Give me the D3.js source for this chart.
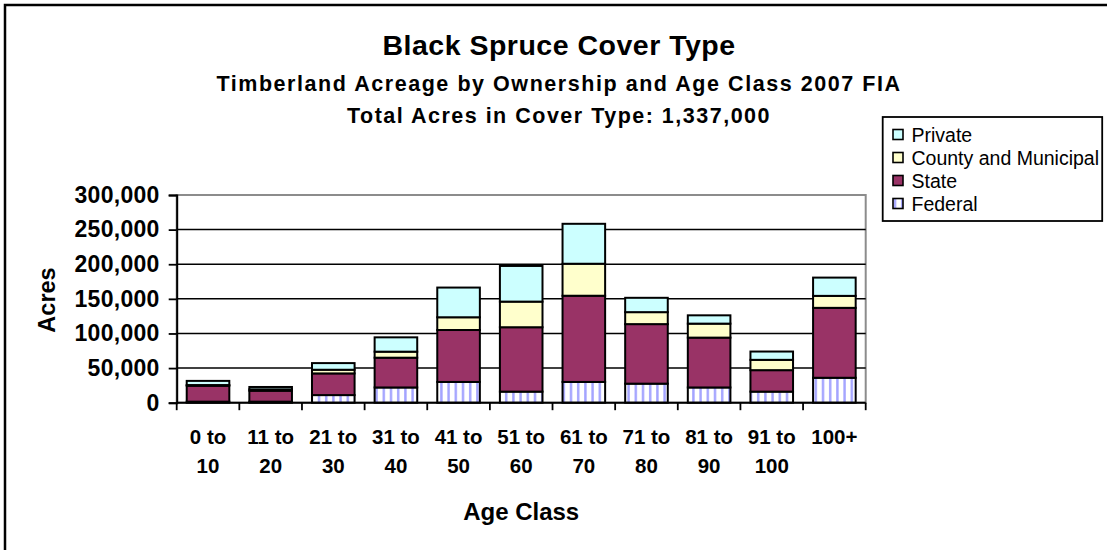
<!DOCTYPE html>
<html>
<head>
<meta charset="utf-8">
<script src="https://cdn.jsdelivr.net/npm/d3@7/dist/d3.min.js"></script>
<style>
  html, body { margin: 0; padding: 0; background: #fff; }
  svg { display: block; font-family: "Liberation Sans", Arial, sans-serif; }
</style>
</head>
<body>
<svg id="chart" width="1107" height="550"></svg>
<script>
const categories = ["0 to 10", "11 to 20", "21 to 30", "31 to 40", "41 to 50", "51 to 60", "61 to 70", "71 to 80", "81 to 90", "91 to 100", "100+"];
const federal = [1500, 1500, 11000, 22000, 30000, 16000, 30000, 27500, 22000, 16000, 36000];
const state   = [23000, 15800, 31300, 43000, 75000, 93000, 124500, 86000, 72000, 31000, 101000];
const county  = [1000, 2000, 5300, 8700, 18400, 37000, 46200, 17300, 20200, 14900, 17300];
const privateOwn = [6000, 3400, 9600, 20700, 42900, 51500, 57700, 20700, 12000, 12000, 26400];
const seriesNames = ["Federal", "State", "County and Municipal", "Private"];
const yTicks = [0, 50000, 100000, 150000, 200000, 250000, 300000];
const titleLines = ["Black Spruce Cover Type", "Timberland Acreage by Ownership and Age Class 2007 FIA", "Total Acres in Cover Type: 1,337,000"];

const svg = d3.select("#chart");
const W = 1107, H = 550;
const plot = { left: 176.7, right: 865.7, top: 195, bottom: 402.7 };

// outer border
svg.append("rect").attr("x", 5).attr("y", 5).attr("width", W + 10).attr("height", H + 10)
  .attr("fill", "none").attr("stroke", "#000").attr("stroke-width", 2.5);

// pattern for federal
const defs = svg.append("defs");
const pat = defs.append("pattern").attr("id", "fedPat").attr("patternUnits", "userSpaceOnUse")
  .attr("width", 7.2).attr("height", 10).attr("x", 0);
pat.append("rect").attr("width", 7.2).attr("height", 10).attr("fill", "#fff");
pat.append("rect").attr("x", 1).attr("width", 2.4).attr("height", 10).attr("fill", "#a3a3ff");

const colors = { "Federal": "url(#fedPat)", "State": "#993366", "County and Municipal": "#FFFFCC", "Private": "#CCFFFF" };

const rows = categories.map((c, i) => ({
  cat: c, "Federal": federal[i], "State": state[i], "County and Municipal": county[i], "Private": privateOwn[i]
}));

const x = d3.scaleBand().domain(categories).range([plot.left, plot.right]).paddingInner(0.32).paddingOuter(0.16);
const y = d3.scaleLinear().domain([0, 300000]).range([plot.bottom, plot.top]);

// plot area border (gray)
svg.append("rect").attr("x", plot.left).attr("y", plot.top)
  .attr("width", plot.right - plot.left).attr("height", plot.bottom - plot.top)
  .attr("fill", "none").attr("stroke", "#8c8c8c").attr("stroke-width", 2);

// gridlines
svg.append("g").selectAll("line").data(yTicks.filter(t => t > 0 && t < 300000)).join("line")
  .attr("x1", plot.left).attr("x2", plot.right)
  .attr("y1", d => y(d)).attr("y2", d => y(d))
  .attr("stroke", "#000").attr("stroke-width", 1.5);

// bars
const stack = d3.stack().keys(seriesNames)(rows);
svg.append("g").selectAll("g").data(stack).join("g")
  .attr("fill", d => colors[d.key])
  .selectAll("rect").data(d => d).join("rect")
  .attr("x", d => x(d.data.cat))
  .attr("width", x.bandwidth())
  .attr("y", d => y(d[1]))
  .attr("height", d => y(d[0]) - y(d[1]))
  .attr("stroke", "#000").attr("stroke-width", 2);

// y axis
const yAxis = d3.axisLeft(y).tickValues(yTicks).tickSize(8).tickPadding(9)
  .tickFormat(d3.format(","));
const yg = svg.append("g").attr("transform", `translate(${plot.left},0)`).call(yAxis);
yg.select(".domain").attr("stroke", "#000").attr("stroke-width", 2);
yg.selectAll(".tick line").attr("stroke", "#000").attr("stroke-width", 1.8);
yg.selectAll(".tick text").attr("font-size", 23).attr("font-weight", "bold")
  .attr("fill", "#000").attr("font-family", "'Liberation Sans', Arial, sans-serif")
  .attr("letter-spacing", 0.3);

// x axis: ticks at boundaries
const xg = svg.append("g");
xg.append("line").attr("x1", plot.left).attr("x2", plot.right)
  .attr("y1", plot.bottom).attr("y2", plot.bottom).attr("stroke", "#000").attr("stroke-width", 2);
const step = x.step();
const bounds = d3.range(categories.length + 1).map(i => plot.left + i * step);
xg.selectAll("line.tk").data(bounds).join("line").attr("class", "tk")
  .attr("x1", d => d).attr("x2", d => d)
  .attr("y1", plot.bottom).attr("y2", plot.bottom + 7.5)
  .attr("stroke", "#000").attr("stroke-width", 1.8);
const xl = xg.selectAll("text.xl").data(categories).join("text").attr("class", "xl")
  .attr("text-anchor", "middle").attr("font-size", 20.5).attr("font-weight", "bold").attr("fill", "#000");
xl.each(function(d) {
  const cx = x(d) + x.bandwidth() / 2;
  const parts = d.indexOf(" to ") >= 0 ? [d.split(" to ")[0] + " to", d.split(" to ")[1]] : [d];
  const t = d3.select(this);
  parts.forEach((p, k) => {
    t.append("tspan").attr("x", cx).attr("y", 444 + k * 29.3).text(p);
  });
});

// axis titles
svg.append("text").attr("transform", `translate(55,300) rotate(-90)`)
  .attr("text-anchor", "middle").attr("font-size", 23.5).attr("font-weight", "bold").text("Acres");
svg.append("text").attr("x", (plot.left + plot.right) / 2).attr("y", 520)
  .attr("text-anchor", "middle").attr("font-size", 24).attr("font-weight", "bold").text("Age Class");

// titles
const cx = 559;
svg.append("text").attr("x", cx).attr("y", 55).attr("text-anchor", "middle")
  .attr("font-size", 28.5).attr("font-weight", "bold").attr("letter-spacing", 0.5).text(titleLines[0]);
svg.append("text").attr("x", cx).attr("y", 90.5).attr("text-anchor", "middle")
  .attr("font-size", 21.5).attr("font-weight", "bold").attr("letter-spacing", 1.55).text(titleLines[1]);
svg.append("text").attr("x", cx).attr("y", 123).attr("text-anchor", "middle")
  .attr("font-size", 21.5).attr("font-weight", "bold").attr("letter-spacing", 1.5).text(titleLines[2]);

// legend
const lg = svg.append("g");
lg.append("rect").attr("x", 882.7).attr("y", 117).attr("width", 219.5).attr("height", 104)
  .attr("fill", "#fff").attr("stroke", "#000").attr("stroke-width", 1.8);
const legendOrder = ["Private", "County and Municipal", "State", "Federal"];
legendOrder.forEach((name, i) => {
  const cy = 134.5 + i * 23;
  lg.append("rect").attr("x", 893).attr("y", cy - 5).attr("width", 10).attr("height", 10)
    .attr("fill", colors[name]).attr("stroke", "#000").attr("stroke-width", 1.6);
  lg.append("text").attr("x", 911.5).attr("y", cy + 7).attr("font-size", 19.5).attr("fill", "#000").text(name);
});
</script>
</body>
</html>
